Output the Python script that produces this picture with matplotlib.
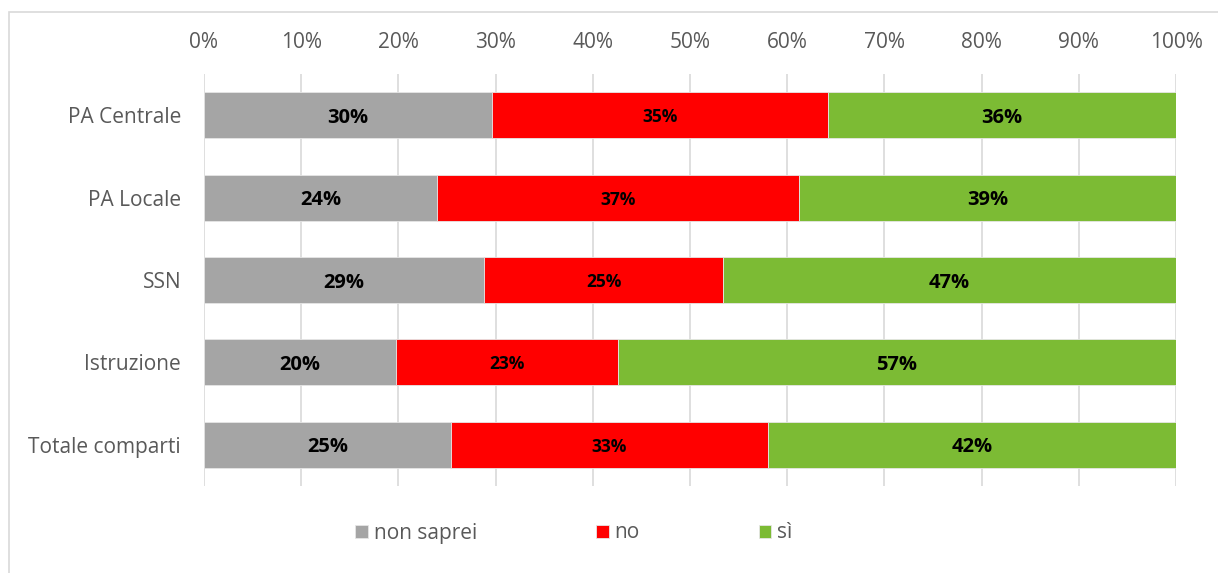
"""Stacked 100% horizontal bars: risposte per comparto."""

import numpy as np
import matplotlib
matplotlib.use('Agg')
import matplotlib.pyplot as plt
from matplotlib.patches import Rectangle

categories = ['PA Centrale', 'PA Locale', 'SSN', 'Istruzione', 'Totale comparti']
non_saprei = [29.6, 24.0, 28.8, 19.8, 25.4]
no = [34.6, 37.2, 24.6, 22.8, 32.6]
si = [35.8, 38.8, 46.6, 57.4, 42.0]
series_names = ['non saprei', 'no', 'sì']
colors = ['#A5A5A5', '#FF0000', '#7CBB34']
ticks = np.arange(0, 101, 10)
tick_labels = ['%d%%' % t for t in ticks]

W, H = 1218, 573
fig = plt.figure(figsize=(W / 100, H / 100), dpi=100)
plt.rcParams['font.family'] = ['Open Sans', 'DejaVu Sans']

# outer chart frame, clipped at right/bottom like the source
fig.patches.append(Rectangle((9 / W, -0.1), 1.2, 1 - 12 / H + 0.1,
                             transform=fig.transFigure, fill=False,
                             edgecolor='#D9D9D9', linewidth=1.2))

ax = fig.add_axes([204 / W, 1 - 486 / H, (1176 - 204) / W, (486 - 74) / H])

y = np.arange(len(categories))
left = np.zeros(len(categories))
for vals, name, col in zip([non_saprei, no, si], series_names, colors):
    vals = np.asarray(vals)
    ax.barh(y, vals, left=left, height=0.56, color=col, label=name,
            edgecolor='#E6E6E6', linewidth=0.6, zorder=3)
    size = 12.5 if name == 'no' else 14.5
    for yi, l, v in zip(y, left, vals):
        ax.text(l + v / 2, yi, '{:.0f}%'.format(v), ha='center',
                va='center_baseline', fontsize=size, fontweight='bold',
                color='black', zorder=4)
    left += vals

ax.set_xlim(0, 100)
ax.set_ylim(len(categories) - 0.5, -0.5)
ax.set_xticks(ticks)
ax.set_xticklabels(tick_labels)
ax.xaxis.tick_top()
ax.set_yticks(y)
ax.set_yticklabels(categories)
ax.tick_params(axis='both', length=0, labelsize=15, colors='#595959')
ax.tick_params(axis='x', pad=15)
ax.tick_params(axis='y', pad=16.5)
ax.grid(axis='x', color='#D9D9D9', linewidth=1.2, zorder=0)
for s in ax.spines.values():
    s.set_visible(False)

fig.legend(loc='center', bbox_to_anchor=(574 / W, 1 - 533 / H), ncol=3,
           frameon=False, fontsize=15, handlelength=0.6, handleheight=0.6,
           handletextpad=0.3, columnspacing=5.7, labelcolor='#595959')

fig.savefig('out.png', dpi=100)
